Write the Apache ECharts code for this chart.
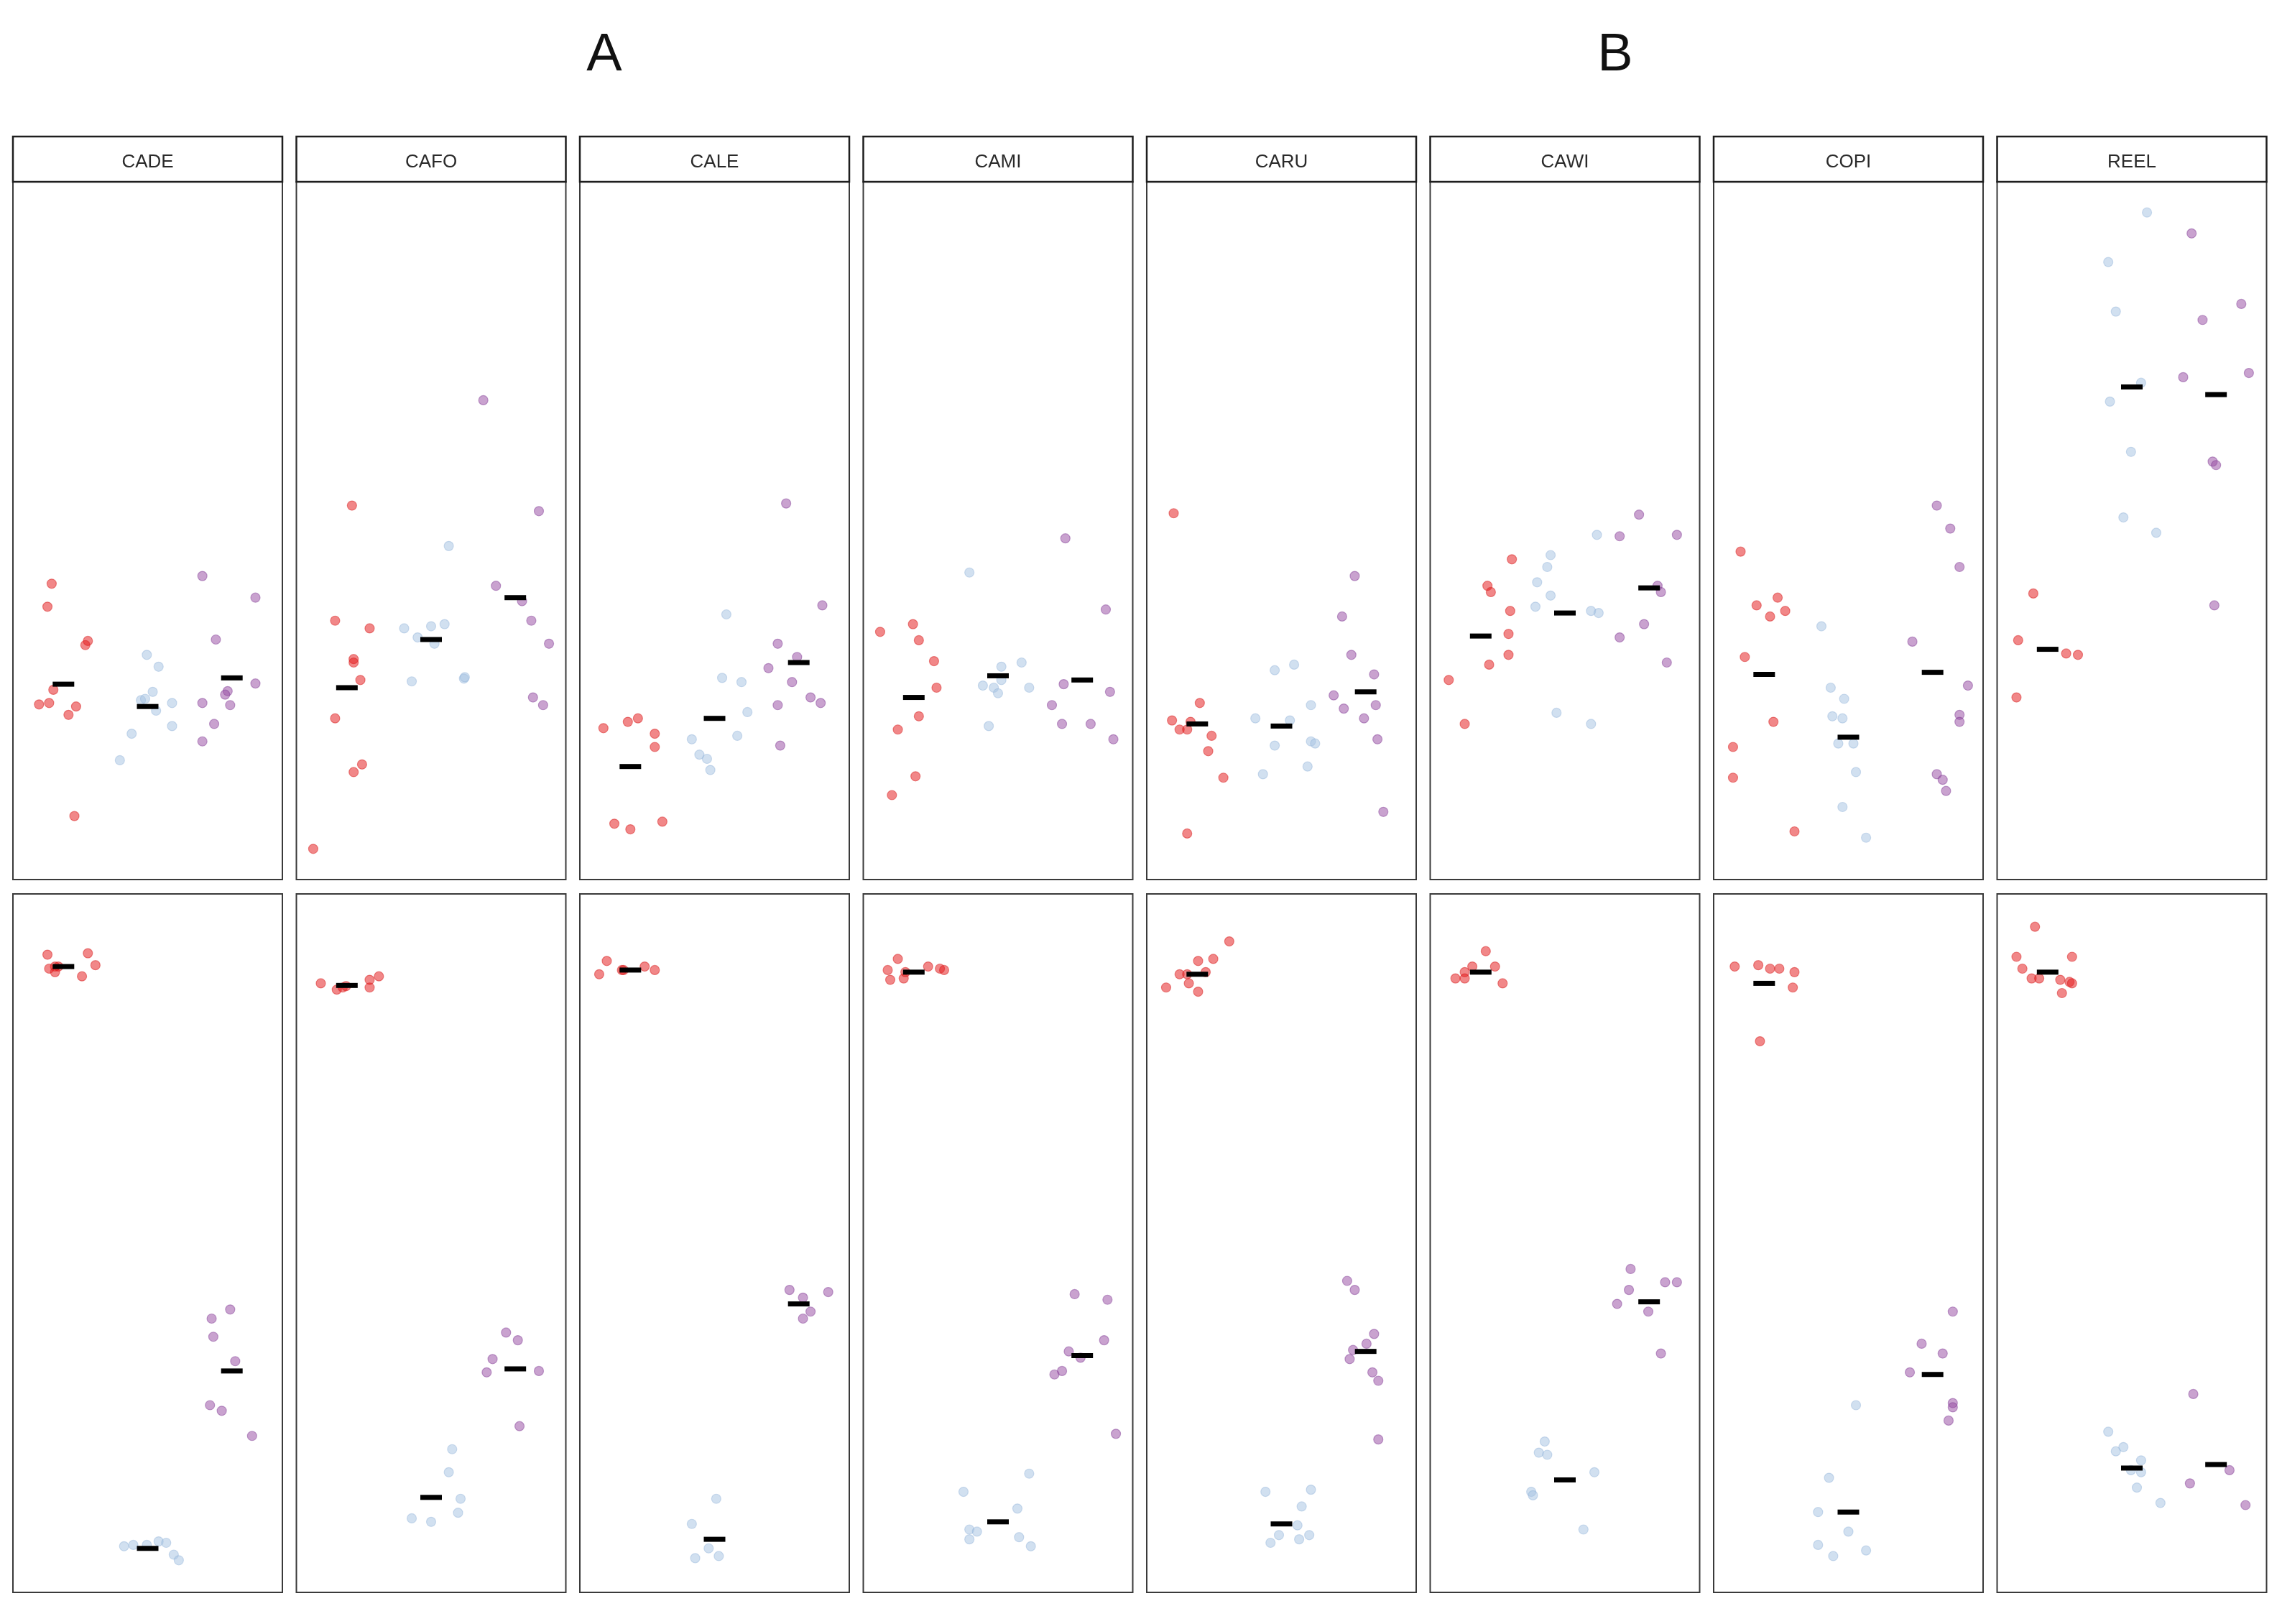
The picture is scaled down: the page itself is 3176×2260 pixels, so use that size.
<!DOCTYPE html>
<html>
<head>
<meta charset="utf-8">
<title>strip chart</title>
<script src="https://cdn.jsdelivr.net/npm/echarts@6.0.0/dist/echarts.min.js"></script>
<style>
  html, body { margin: 0; padding: 0; background: #fff; }
  #chart { width: 3176px; height: 2260px; }
</style>
</head>
<body>
<div id="chart"></div>
<script>
// panel names (one column per site)
const sites = ['CADE', 'CAFO', 'CALE', 'CAMI', 'CARU', 'CAWI', 'COPI', 'REEL'];
const headings = ['A', 'B'];

// points are [group position with jitter, value]; value scale 0-100 in each panel
// top row
const top_red = [
    [[0.86,42.4],[0.81,39.1],[1.29,34.2],[1.26,33.6],[0.88,27.2],[0.71,25.1],[0.83,25.3],[1.06,23.6],[1.15,24.8],[1.13,9.1]],
    [[1.06,53.6],[0.86,37.1],[1.27,36.0],[1.08,31.6],[1.08,31.1],[1.16,28.6],[0.86,23.1],[1.18,16.5],[1.08,15.4],[0.60,4.4]],
    [[0.68,21.7],[0.97,22.6],[1.09,23.1],[1.29,20.9],[1.29,19.0],[0.81,8.0],[1.00,7.2],[1.38,8.3]],
    [[0.60,35.5],[0.99,36.6],[1.06,34.3],[1.24,31.3],[1.27,27.5],[1.06,23.4],[0.81,21.5],[1.02,14.8],[0.74,12.1]],
    [[0.72,52.5],[1.03,25.3],[0.70,22.8],[0.92,22.6],[0.79,21.5],[0.88,21.5],[1.17,20.6],[1.13,18.4],[1.31,14.6],[0.88,6.6]],
    [[1.37,45.9],[1.08,42.1],[1.12,41.2],[1.35,38.5],[1.33,35.2],[1.33,32.2],[1.10,30.8],[0.62,28.6],[0.81,22.3]],
    [[0.72,47.0],[1.16,40.4],[0.91,39.3],[1.25,38.5],[1.07,37.7],[0.77,31.9],[1.11,22.6],[0.63,19.0],[0.63,14.6],[1.36,6.9]],
    [[0.83,41.0],[0.65,34.3],[1.22,32.4],[1.36,32.2],[0.63,26.1]]
];
const top_blue = [
    [[1.99,32.2],[2.13,30.5],[2.06,26.9],[1.92,25.7],[1.97,25.9],[2.29,25.3],[2.10,24.2],[1.81,20.9],[2.29,22.0],[1.67,17.1]],
    [[2.21,47.8],[1.68,36.0],[2.00,36.3],[2.16,36.6],[1.84,34.7],[2.04,33.8],[1.77,28.4],[2.39,28.8],[2.40,29.0]],
    [[2.14,38.0],[2.09,28.9],[2.32,28.3],[2.39,24.0],[1.73,20.1],[2.27,20.6],[1.82,17.9],[1.91,17.3],[1.95,15.7]],
    [[1.66,44.0],[2.04,30.5],[2.28,31.1],[2.04,28.6],[1.82,27.8],[1.95,27.5],[2.00,26.7],[2.37,27.5],[1.89,22.0]],
    [[1.92,30.0],[2.15,30.8],[2.35,25.0],[1.69,23.1],[2.10,22.8],[1.92,19.2],[2.35,19.8],[2.40,19.5],[1.78,15.1],[2.31,16.2]],
    [[2.38,49.4],[1.83,46.5],[1.79,44.8],[1.67,42.6],[1.83,40.7],[1.65,39.1],[2.31,38.5],[2.40,38.2],[1.90,23.9],[2.31,22.3]],
    [[1.68,36.3],[1.79,27.5],[1.95,25.9],[1.81,23.4],[1.93,23.1],[1.88,19.5],[2.06,19.5],[2.09,15.4],[1.93,10.4],[2.21,6.0]],
    [[2.18,95.6],[1.72,88.5],[1.81,81.4],[2.11,71.2],[1.74,68.5],[1.99,61.3],[1.90,51.9],[2.29,49.7]]
];
const top_purple = [
    [[2.65,43.5],[3.28,40.4],[2.81,34.4],[3.28,28.1],[2.95,27.0],[2.92,26.5],[2.65,25.3],[2.98,25.0],[2.79,22.3],[2.65,19.8]],
    [[2.62,68.7],[3.28,52.8],[2.77,42.1],[3.08,39.9],[3.19,37.1],[3.40,33.8],[3.21,26.1],[3.33,25.0]],
    [[2.85,53.9],[3.28,39.3],[2.75,33.8],[2.98,31.9],[2.64,30.3],[2.92,28.3],[3.14,26.1],[3.26,25.3],[2.75,25.0],[2.78,19.2]],
    [[2.80,48.9],[3.28,38.7],[2.78,28.0],[3.33,26.9],[2.64,25.0],[2.76,22.3],[3.10,22.3],[3.37,20.1]],
    [[2.87,43.5],[2.72,37.7],[2.83,32.2],[3.10,29.4],[2.62,26.4],[2.74,24.5],[3.12,25.0],[2.98,23.1],[3.14,20.1],[3.21,9.7]],
    [[2.88,52.3],[2.65,49.2],[3.33,49.4],[3.10,42.1],[3.14,41.2],[2.94,36.6],[2.65,34.7],[3.21,31.1]],
    [[3.05,53.6],[3.21,50.3],[3.32,44.8],[2.76,34.1],[3.42,27.8],[3.32,23.6],[3.32,22.6],[3.05,15.1],[3.12,14.3],[3.16,12.7]],
    [[2.71,92.6],[3.30,82.5],[2.84,80.2],[3.39,72.6],[2.61,72.0],[2.96,59.9],[3.00,59.4],[2.98,39.3]]
];
const top_red_median = [28.0, 27.5, 16.2, 26.1, 22.3, 34.9, 29.4, 33.0];
const top_blue_median = [24.8, 34.4, 23.1, 29.2, 22.0, 38.2, 20.4, 70.6];
const top_purple_median = [28.9, 40.4, 31.1, 28.6, 26.9, 41.8, 29.7, 69.5];

// bottom row
const bot_red = [
    [[0.81,91.3],[1.29,91.5],[1.38,89.8],[0.83,89.3],[0.90,89.6],[0.94,89.6],[0.90,88.8],[1.22,88.2]],
    [[0.69,87.2],[0.88,86.3],[0.95,86.6],[0.99,86.8],[1.27,87.7],[1.38,88.2],[1.27,86.6]],
    [[0.72,90.4],[0.63,88.5],[0.90,89.1],[0.92,89.1],[1.17,89.6],[1.29,89.1]],
    [[0.81,90.7],[0.69,89.1],[1.17,89.6],[1.31,89.3],[1.36,89.1],[0.72,87.7],[0.88,87.9],[0.90,88.8]],
    [[1.38,93.2],[1.19,90.7],[1.01,90.4],[0.79,88.5],[0.88,88.5],[1.10,88.8],[0.90,87.2],[0.63,86.6],[1.01,86.0]],
    [[1.06,91.8],[0.90,89.6],[1.17,89.6],[0.81,88.8],[0.70,87.9],[0.81,87.9],[1.26,87.2]],
    [[0.65,89.6],[0.93,89.8],[1.07,89.3],[1.18,89.3],[1.36,88.8],[1.34,86.6],[0.95,78.9]],
    [[0.85,95.3],[0.63,91.0],[1.29,91.0],[0.70,89.3],[0.81,87.9],[0.90,87.9],[1.15,87.7],[1.26,87.4],[1.29,87.2],[1.17,85.8]]
];
const bot_blue = [
    [[1.72,6.6],[1.83,6.8],[1.99,6.8],[2.13,7.3],[2.22,7.1],[2.31,5.4],[2.37,4.6]],
    [[2.25,20.5],[2.21,17.2],[2.35,13.4],[2.32,11.4],[1.77,10.6],[2.00,10.1]],
    [[2.02,13.4],[1.73,9.8],[1.93,6.3],[1.77,4.9],[2.05,5.2]],
    [[2.37,17.0],[1.59,14.4],[2.23,12.0],[1.66,9.0],[1.75,8.7],[1.66,7.6],[2.25,7.9],[2.39,6.6]],
    [[2.35,14.7],[1.81,14.4],[2.24,12.3],[2.19,9.6],[1.97,8.2],[2.33,8.2],[2.21,7.6],[1.87,7.1]],
    [[1.76,21.6],[1.69,20.0],[1.79,19.7],[2.35,17.2],[1.60,14.4],[1.62,13.9],[2.22,9.0]],
    [[2.09,26.8],[1.77,16.4],[1.64,11.5],[2.00,8.7],[1.64,6.8],[1.82,5.2],[2.21,6.0]],
    [[1.72,23.0],[1.81,20.2],[1.90,20.8],[2.11,18.9],[1.99,17.5],[2.11,17.2],[2.06,15.0],[2.34,12.8]]
];
const bot_purple = [
    [[2.98,40.5],[2.76,39.2],[2.78,36.6],[3.04,33.1],[2.74,26.8],[2.88,26.0],[3.24,22.4]],
    [[2.89,37.2],[3.03,36.1],[2.73,33.4],[2.66,31.5],[3.28,31.7],[3.05,23.8]],
    [[2.89,43.3],[3.35,43.0],[3.05,42.2],[3.14,40.2],[3.05,39.2]],
    [[2.91,42.7],[3.30,41.9],[3.26,36.1],[2.84,34.5],[2.98,33.6],[2.76,31.7],[2.67,31.2],[3.40,22.7]],
    [[2.78,44.6],[2.87,43.3],[3.10,37.0],[3.01,35.6],[2.85,34.7],[2.81,33.4],[3.08,31.5],[3.15,30.3],[3.15,21.9]],
    [[2.78,46.3],[3.19,44.4],[3.33,44.4],[2.76,43.3],[2.62,41.3],[2.99,40.2],[3.14,34.2]],
    [[3.24,40.2],[2.87,35.6],[3.12,34.2],[2.73,31.5],[3.24,27.1],[3.24,26.5],[3.19,24.6]],
    [[2.73,28.4],[3.16,17.5],[2.69,15.6],[3.35,12.5]]
];
const bot_red_median = [89.6, 86.9, 89.1, 88.8, 88.5, 88.8, 87.2, 88.8];
const bot_blue_median = [6.3, 13.6, 7.6, 10.1, 9.8, 16.1, 11.5, 17.8];
const bot_purple_median = [31.7, 32.0, 41.3, 33.9, 34.5, 41.6, 31.2, 18.3];

// point colours
const fills = ['rgba(228,26,28,0.66)', 'rgba(166,196,226,0.65)', 'rgba(152,78,163,0.66)'];
const edges = ['rgba(215,30,30,0.6)', 'rgba(140,175,215,0.5)', 'rgba(125,55,145,0.55)'];

// layout (pixels)
const panel_left = 18, panel_step = 394.5, panel_w = 375;
const strip_top = 190, strip_h = 63;
const rows_top = [253, 1244], rows_h = [971, 972];

let chart = echarts.init(document.getElementById('chart'));

let grids = [], x_axes = [], y_axes = [], series = [], graphics = [];
let rows = [
    {groups: [top_red, top_blue, top_purple], medians: [top_red_median, top_blue_median, top_purple_median]},
    {groups: [bot_red, bot_blue, bot_purple], medians: [bot_red_median, bot_blue_median, bot_purple_median]}
];

rows.forEach(function (row, r) {
    sites.forEach(function (site, c) {
        let idx = grids.length;
        let left = panel_left + c * panel_step;
        grids.push({
            left: left, top: rows_top[r], width: panel_w, height: rows_h[r],
            show: true, borderColor: '#3a3a3a', borderWidth: 2, backgroundColor: '#fff'
        });
        x_axes.push({type: 'value', gridIndex: idx, min: 0.4, max: 3.6, show: false});
        y_axes.push({type: 'value', gridIndex: idx, min: 0, max: 100, show: false});

        // jittered points, one series per group
        row.groups.forEach(function (g, k) {
            series.push({
                type: 'scatter', xAxisIndex: idx, yAxisIndex: idx,
                data: g[c], symbolSize: 13, silent: true,
                itemStyle: {color: fills[k], borderColor: edges[k], borderWidth: 1.2}
            });
        });
        // median dashes
        series.push({
            type: 'scatter', xAxisIndex: idx, yAxisIndex: idx, z: 5, silent: true,
            symbol: 'rect', symbolSize: [30, 7],
            itemStyle: {color: '#000', opacity: 1},
            data: row.medians.map(function (m, k) { return [k + 1, m[c]]; })
        });

        // facet strip above top row only
        if (r === 0) {
            graphics.push({
                type: 'rect',
                shape: {x: left, y: strip_top, width: panel_w, height: strip_h},
                style: {fill: '#fff', stroke: '#1e1e1e', lineWidth: 2.5}
            });
            graphics.push({
                type: 'text', x: left + panel_w / 2, y: strip_top + strip_h / 2 + 4,
                style: {text: site, fill: '#2a2a2a', font: '26px "Liberation Sans", Arial, sans-serif',
                        align: 'center', verticalAlign: 'middle'}
            });
        }
    });
});

// panel headings A and B
let heading_x = [841, 2248];
headings.forEach(function (h, i) {
    graphics.push({
        type: 'text', x: heading_x[i], y: 78,
        style: {text: h, fill: '#111', font: '74px "Liberation Sans", Arial, sans-serif',
                align: 'center', verticalAlign: 'middle'}
    });
});

chart.setOption({
    animation: false,
    backgroundColor: '#fff',
    grid: grids,
    xAxis: x_axes,
    yAxis: y_axes,
    series: series,
    graphic: graphics
});
</script>
</body>
</html>
